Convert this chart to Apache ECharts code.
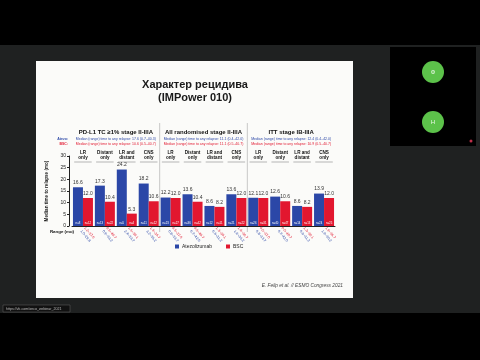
<!DOCTYPE html>
<html><head><meta charset="utf-8">
<script src="https://cdn.jsdelivr.net/npm/echarts@6/dist/echarts.min.js"></script>
<style>html,body{margin:0;padding:0;background:#000}#c{width:480px;height:360px}</style>
</head><body><div id="c"></div>
<script>
// ---- data ----
const categories = ['LR only','Distant only','LR and distant','CNS only','LR only ','Distant only ','LR and distant ','CNS only ','LR only  ','Distant only  ','LR and distant  ','CNS only  '];
const catLabels = ['LR\nonly','Distant\nonly','LR and\ndistant','CNS\nonly','LR\nonly','Distant\nonly','LR and\ndistant','CNS\nonly','LR\nonly','Distant\nonly','LR and\ndistant','CNS\nonly'];
const atezo = [16.6,17.3,24.2,18.2, 12.2,13.6,8.6,13.6, 12.1,12.6,8.6,13.9];
const bsc   = [12.0,10.4,5.3,10.6, 12.0,10.4,8.2,12.0, 12.0,10.6,8.2,12.0];
const nAtezo = ['n=8','n=13','n=5','n=11','n=23','n=36','n=12','n=21','n=26','n=40','n=14','n=24'];
const nBsc   = ['n=12','n=22','n=4','n=12','n=27','n=42','n=11','n=22','n=31','n=47','n=13','n=25'];
const rangeAtezo = ['1.0–29.8','0.9–33.2','2.4–33.7','3.2–36.2','0.8–33.7','0.7–42.0','0.6–31.2','1.9–36.2','0.8–33.7','0.7–42.0','0.6–31.2','1.9–36.2'];
const rangeBsc   = ['1.2–37.0','0.5–40.7','1.6–30.1','1.9–36.7','0.5–37.0','0.5–40.7','1.3–30.1','1.9–36.7','0.5–37.0','0.5–40.7','1.3–30.1','1.9–36.7'];
const yTicks = [0,5,10,15,20,25,30];
const groupTitles = ['PD-L1 TC \u22651% stage II-IIIA','All randomised stage II-IIIA','ITT stage IB-IIIA'];
const groupAtezoText = ['Median (range) time to any relapse: 17.6 (0.7\u201340.3)','Median (range) time to any relapse: 11.1 (0.4\u201342.0)','Median (range) time to any relapse: 12.4 (0.4\u201342.0)'];
const groupBscText = ['Median (range) time to any relapse: 10.6 (0.5\u201340.7)','Median (range) time to any relapse: 11.1 (0.5\u201340.7)','Median (range) time to any relapse: 10.9 (0.5\u201340.7)'];
const seriesNames = ['Atezolizumab','BSC'];

const BLUE = '#2b47a7', RED = '#e2172f';
const FONT = 'Liberation Sans, Arial, sans-serif';
const chart = echarts.init(document.getElementById('c'), null, {renderer:'canvas'});

chart.setOption({
  backgroundColor: '#000',
  animation: false,
  textStyle: {fontFamily: FONT},
  grid: {left: 72, right: 145, top: 156, bottom: 134},
  legend: {
    data: seriesNames, left: 175, top: 244, padding: 0, icon: 'rect', itemWidth: 4, itemHeight: 4, itemGap: 14,
    textStyle: {fontSize: 5, color: '#222', fontFamily: FONT, padding: [0,0,0,-2]}
  },
  xAxis: [{
    type: 'category', data: categories,
    axisLine: {lineStyle: {color: '#222', width: 1}},
    axisTick: {show: false},
    axisLabel: {
      interval: 0, rotate: -50, margin: 3,
      formatter: (v, i) => '{r|' + rangeBsc[i] + '}\n{b|' + rangeAtezo[i] + '}',
      rich: {r: {color: RED, fontSize: 3.6, lineHeight: 5}, b: {color: BLUE, fontSize: 3.6, lineHeight: 5}}
    }
  }, {
    type: 'category', data: categories, show: false
  }],
  yAxis: {
    type: 'value', min: 0, max: 30, interval: 5, offset: 3,
    name: 'Median time to relapse (mo)', nameLocation: 'middle', nameGap: 11,
    nameTextStyle: {fontSize: 4.6, fontWeight: 'bold', color: '#222'},
    axisLine: {show: true, lineStyle: {color: '#222'}},
    axisTick: {show: true, length: 2, lineStyle: {color: '#222'}},
    axisLabel: {fontSize: 5, color: '#222', margin: 3, formatter: v => yTicks.includes(v) ? String(v) : ''},
    splitLine: {show: false}
  },
  series: [
    {name: seriesNames[0], type: 'bar', data: atezo, barWidth: 10, barGap: '0%', itemStyle: {color: BLUE},
     label: {show: true, position: 'top', distance: 2, fontSize: 5, color: '#333', formatter: p => p.value.toFixed(1)}},
    {name: seriesNames[1], type: 'bar', data: bsc, barWidth: 10, barGap: '0%', itemStyle: {color: RED},
     label: {show: true, position: 'top', distance: 2, fontSize: 5, color: '#333', formatter: p => p.value.toFixed(1)}},
    {name: 'nA', type: 'bar', xAxisIndex: 1, data: atezo.map(() => 0.001), barWidth: 10, barGap: '0%', silent: true,
     itemStyle: {color: 'transparent'}, z: 5,
     label: {show: true, position: 'top', distance: 1.2, fontSize: 2.8, color: '#fff', formatter: p => nAtezo[p.dataIndex]}},
    {name: 'nB', type: 'bar', xAxisIndex: 1, data: bsc.map(() => 0.001), barWidth: 10, barGap: '0%', silent: true,
     itemStyle: {color: 'transparent'}, z: 5,
     label: {show: true, position: 'top', distance: 1.2, fontSize: 2.8, color: '#fff', formatter: p => nBsc[p.dataIndex]}}
  ]
});

// ---- decorations placed via the chart's own scales ----
const px = i => chart.convertToPixel({xAxisIndex: 0}, i);
const centers = categories.map((c, i) => px(i));
const step = centers[1] - centers[0];
const g = [];
// backgrounds
g.push({type: 'rect', z: -100, shape: {x: 0, y: 45, width: 480, height: 268}, style: {fill: '#1f2121'}});
g.push({type: 'rect', z: -99, shape: {x: 36, y: 61, width: 317, height: 237}, style: {fill: '#fbfbf9'}});
g.push({type: 'rect', z: -99, shape: {x: 390, y: 47, width: 86, height: 99}, style: {fill: '#000'}});
g.push({type: 'circle', z: -98, shape: {cx: 433, cy: 72, r: 11}, style: {fill: '#5cc24a'}});
g.push({type: 'circle', z: -98, shape: {cx: 433, cy: 122, r: 11}, style: {fill: '#5cc24a'}});
g.push({type: 'text', z: -97, x: 433, y: 72, style: {text: 'Ф', fill: '#eaf7e6', fontSize: 6, fontFamily: FONT, align: 'center', verticalAlign: 'middle'}});
g.push({type: 'text', z: -97, x: 433, y: 122, style: {text: 'Н', fill: '#eaf7e6', fontSize: 6, fontFamily: FONT, align: 'center', verticalAlign: 'middle'}});
g.push({type: 'circle', z: -97, shape: {cx: 471, cy: 141, r: 1.5}, style: {fill: '#c0304a'}});
g.push({type: 'rect', z: -97, shape: {x: 3, y: 305, width: 67, height: 7}, style: {fill: '#111', stroke: '#666', lineWidth: 0.5}});
g.push({type: 'text', z: -96, x: 6, y: 308.5, style: {text: 'https://vk.com/onco_webinar_2021', fill: '#bbb', fontSize: 3.6, fontFamily: FONT, verticalAlign: 'middle'}});
// title
g.push({type: 'text', x: 195, y: 85, style: {text: 'Характер рецидива', fill: '#1a1a1a', fontSize: 11, fontWeight: 'bold', fontFamily: FONT, align: 'center', verticalAlign: 'middle'}});
g.push({type: 'text', x: 195, y: 98, style: {text: '(IMPower 010)', fill: '#1a1a1a', fontSize: 11, fontWeight: 'bold', fontFamily: FONT, align: 'center', verticalAlign: 'middle'}});
// group headers
for (let k = 0; k < 3; k++) {
  const cx = (centers[k*4] + centers[k*4+3]) / 2;
  g.push({type: 'text', x: cx, y: 132, style: {text: groupTitles[k], fill: '#111', fontSize: 6, fontWeight: 'bold', fontFamily: FONT, align: 'center', verticalAlign: 'middle'}});
  g.push({type: 'text', x: cx, y: 139, style: {text: groupAtezoText[k], fill: BLUE, fontSize: 3.5, fontFamily: FONT, align: 'center', verticalAlign: 'middle'}});
  g.push({type: 'text', x: cx, y: 144, style: {text: groupBscText[k], fill: RED, fontSize: 3.5, fontFamily: FONT, align: 'center', verticalAlign: 'middle'}});
}
g.push({type: 'text', x: 68, y: 139, style: {text: 'Atezo:', fill: BLUE, fontSize: 3.5, fontWeight: 'bold', fontFamily: FONT, align: 'right', verticalAlign: 'middle'}});
g.push({type: 'text', x: 68, y: 144, style: {text: 'BSC:', fill: RED, fontSize: 3.5, fontWeight: 'bold', fontFamily: FONT, align: 'right', verticalAlign: 'middle'}});
// separators
[4, 8].forEach(i => {
  const x = (centers[i-1] + centers[i]) / 2;
  g.push({type: 'line', shape: {x1: x, y1: 123, x2: x, y2: 232}, style: {stroke: '#bbb', lineWidth: 0.8}});
});
// category labels + underlines
centers.forEach((cx, i) => {
  g.push({type: 'text', x: cx, y: 155.5, style: {text: catLabels[i], fill: '#111', fontSize: 4.6, fontWeight: 'bold', lineHeight: 5.2, fontFamily: FONT, align: 'center', verticalAlign: 'middle'}});
  g.push({type: 'line', shape: {x1: cx - step*0.4, y1: 162, x2: cx + step*0.4, y2: 162}, style: {stroke: '#888', lineWidth: 0.6}});
});
g.push({type: 'text', x: 62, y: 232, style: {text: 'Range (mo)', fill: '#111', fontSize: 4.4, fontWeight: 'bold', fontFamily: FONT, align: 'center', verticalAlign: 'middle'}});
// citation
g.push({type: 'text', x: 343, y: 286, style: {text: 'E. Felip et al. // ESMO Congress 2021', fill: '#444', fontSize: 4.8, fontStyle: 'italic', fontFamily: FONT, align: 'right', verticalAlign: 'middle'}});
chart.setOption({graphic: {elements: g}});
</script>
</body></html>
